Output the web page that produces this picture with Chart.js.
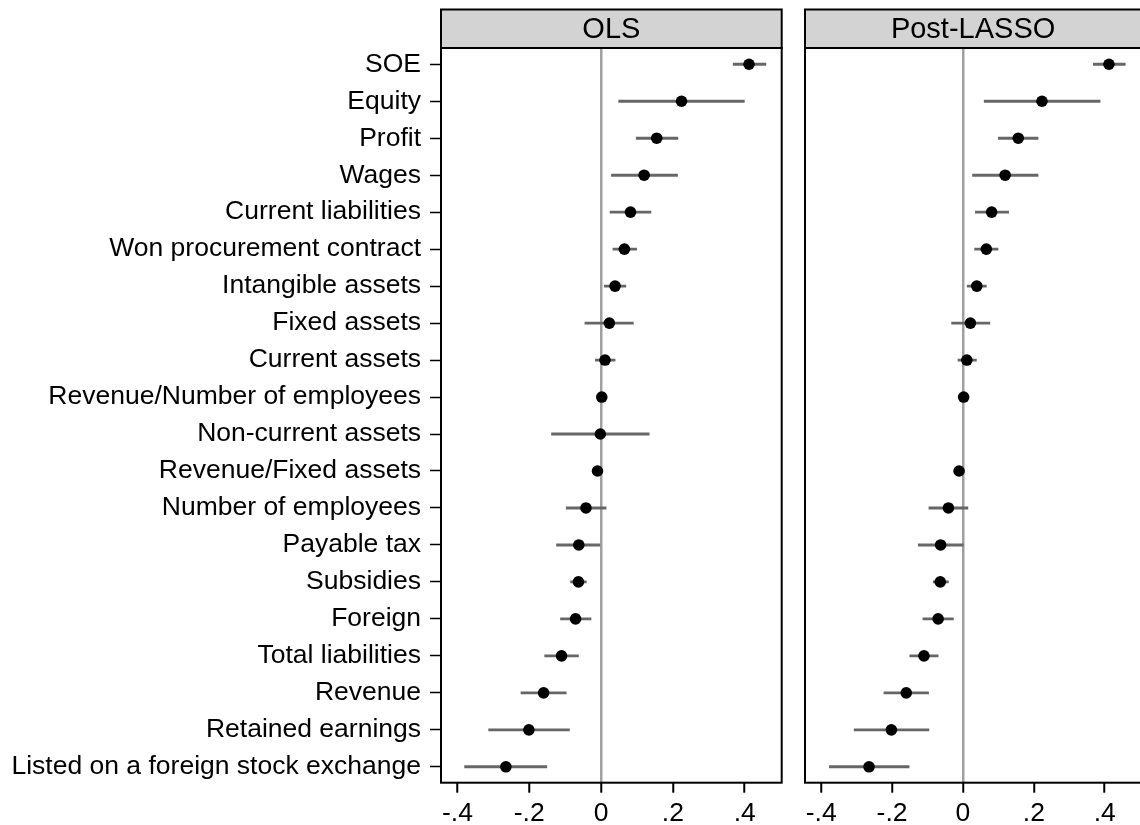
<!DOCTYPE html>
<html>
<head>
<meta charset="utf-8">
<script src="https://cdn.jsdelivr.net/npm/chart.js@4.4.1/dist/chart.umd.min.js"></script>
<style>
  html, body { margin: 0; padding: 0; background: #fff; overflow: hidden; width: 1140px; height: 825px; }
  #wrap { position: relative; width: 1140px; height: 825px; overflow: hidden; }
  canvas { position: absolute; top: 0; }
</style>
</head>
<body>
<div id="wrap">
  <canvas id="c1" width="790" height="825" style="left:0px;width:790px;height:825px"></canvas>
  <canvas id="c2" width="357" height="825" style="left:790px;width:357px;height:825px"></canvas>
</div>
<script>
// ---- data ----
const categories = [
  "SOE", "Equity", "Profit", "Wages", "Current liabilities",
  "Won procurement contract", "Intangible assets", "Fixed assets", "Current assets",
  "Revenue/Number of employees", "Non-current assets", "Revenue/Fixed assets",
  "Number of employees", "Payable tax", "Subsidies", "Foreign", "Total liabilities",
  "Revenue", "Retained earnings", "Listed on a foreign stock exchange"
];
const panelTitles = ["OLS", "Post-LASSO"];
const xTicks = [-0.4, -0.2, 0, 0.2, 0.4];

const olsCoef = [0.412, 0.224, 0.155, 0.120, 0.082, 0.065, 0.039, 0.023, 0.011, 0.002, -0.002, -0.010, -0.042, -0.062, -0.063, -0.071, -0.110, -0.160, -0.201, -0.265];
const olsLo   = [0.368, 0.049, 0.098, 0.029, 0.025, 0.033, 0.009, -0.045, -0.016, -0.001, -0.138, -0.013, -0.097, -0.124, -0.085, -0.113, -0.157, -0.223, -0.313, -0.380];
const olsHi   = [0.459, 0.399, 0.214, 0.213, 0.139, 0.099, 0.069, 0.090, 0.039, 0.005, 0.134, -0.007, 0.014, 0.000, -0.041, -0.028, -0.063, -0.097, -0.088, -0.151];

const lassoCoef = [0.412, 0.223, 0.156, 0.119, 0.081, 0.066, 0.039, 0.021, 0.011, 0.002, null, -0.011, -0.041, -0.063, -0.064, -0.070, -0.110, -0.160, -0.202, -0.265];
const lassoLo   = [0.368, 0.060, 0.100, 0.027, 0.035, 0.033, 0.012, -0.032, -0.014, -0.001, null, -0.014, -0.096, -0.126, -0.084, -0.113, -0.150, -0.223, -0.307, -0.377];
const lassoHi   = [0.458, 0.387, 0.212, 0.212, 0.129, 0.099, 0.066, 0.076, 0.038, 0.005, null, -0.008, 0.014, 0.001, -0.041, -0.027, -0.070, -0.097, -0.096, -0.152];

const FONT = "'Liberation Sans', Arial, Helvetica, sans-serif";

// header strip + frame plugin
const framePlugin = {
  id: 'frame',
  afterDraw(chart, args, opts) {
    const { ctx, chartArea: a } = chart;
    ctx.save();
    const top = 9.5;
    ctx.fillStyle = '#d3d3d3';
    ctx.fillRect(a.left, top, a.right - a.left, a.top - top);
    ctx.strokeStyle = '#000';
    ctx.lineWidth = 2;
    ctx.strokeRect(a.left, top, a.right - a.left, a.top - top);
    ctx.fillStyle = '#000';
    ctx.font = '29px ' + FONT;
    ctx.textAlign = 'center';
    ctx.textBaseline = 'middle';
    ctx.fillText(opts.title, (a.left + a.right) / 2, (top + a.top) / 2 + 1);
    ctx.strokeRect(a.left, a.top, a.right - a.left, a.bottom - a.top);
    ctx.restore();
  }
};

function fmtTick(v) {
  if (Math.abs(v) < 1e-9) return '0';
  const s = Math.abs(v).toFixed(1).replace(/^0/, '');
  return (v < 0 ? '-' : '') + s;
}

function makeChart(canvasId, title, coef, lo, hi, showY, padding) {
  const pts = [], bars = [];
  categories.forEach((c, i) => {
    if (coef[i] === null) return;
    pts.push({ x: coef[i], y: i });
    bars.push({ x: [lo[i], hi[i]], y: i });
  });
  return new Chart(document.getElementById(canvasId), {
    type: 'scatter',
    data: {
      datasets: [
        {
          type: 'scatter', data: pts, order: 0,
          pointRadius: 5.8, pointHoverRadius: 5.8,
          backgroundColor: '#000', borderWidth: 0,
          xAxisID: 'x', yAxisID: 'y'
        },
        {
          type: 'bar', data: bars, order: 1, indexAxis: 'y',
          backgroundColor: '#666666', borderWidth: 0,
          barThickness: 2.2, grouped: false,
          xAxisID: 'x', yAxisID: 'y'
        }
      ]
    },
    options: {
      responsive: false,
      animation: false,
      devicePixelRatio: 1,
      layout: { padding: padding },
      plugins: {
        legend: { display: false },
        tooltip: { enabled: false },
        frame: { title: title }
      },
      scales: {
        x: {
          type: 'linear',
          offset: false,
          min: -0.4457, max: 0.503,
          afterBuildTicks: s => { s.ticks = xTicks.map(v => ({ value: v })); },
          afterFit: s => { s.height = 42.3; },
          border: { display: false },
          grid: {
            offset: false,
            drawOnChartArea: true,
            color: c => (c.tick && Math.abs(c.tick.value) < 1e-9) ? '#a0a0a0' : 'rgba(0,0,0,0)',
            lineWidth: 2.5,
            tickColor: '#000',
            tickLength: 10,
            tickWidth: 2
          },
          ticks: {
            callback: v => fmtTick(v),
            color: '#000',
            font: { family: FONT, size: 26.5 },
            padding: 5,
            maxRotation: 0,
            autoSkip: false
          }
        },
        y: {
          type: 'linear',
          reverse: true,
          offset: false,
          min: -0.44, max: categories.length - 1 + 0.43,
          display: showY,
          afterBuildTicks: s => { s.ticks = categories.map((c, i) => ({ value: i })); },
          afterFit: s => { if (showY) s.width = 441; },
          border: { display: false },
          grid: {
            offset: false,
            drawOnChartArea: false,
            tickColor: '#000',
            tickLength: 11,
            tickWidth: 1.5
          },
          ticks: {
            callback: v => categories[v],
            color: '#000',
            font: { family: FONT, size: 26.5 },
            padding: 9,
            autoSkip: false
          }
        }
      }
    },
    plugins: [framePlugin]
  });
}

makeChart('c1', panelTitles[0], olsCoef, olsLo, olsHi, true, { top: 48, right: 8.3, bottom: 0, left: 0 });
makeChart('c2', panelTitles[1], lassoCoef, lassoLo, lassoHi, false, { top: 48, right: 1.3, bottom: 0, left: 15 });
</script>
</body>
</html>
